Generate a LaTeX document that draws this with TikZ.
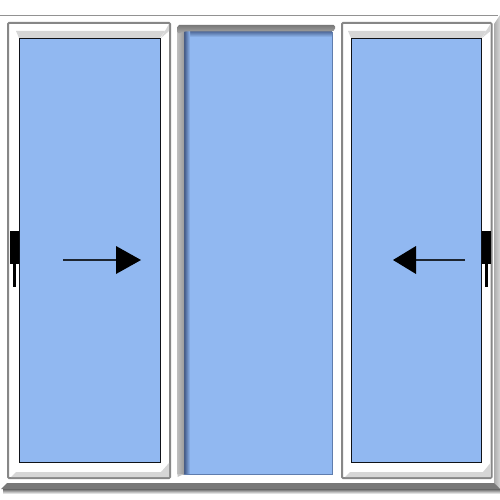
\documentclass[tikz,border=0pt]{standalone}
\definecolor{glass}{RGB}{145,184,241}
\definecolor{glassedge}{RGB}{62,85,130}
\definecolor{framegray}{RGB}{135,135,135}
\definecolor{bandgray}{RGB}{214,214,214}
\definecolor{midgray}{RGB}{172,172,172}
\definecolor{darkband}{RGB}{120,120,120}
\tikzset{
  x=1pt,y=-1pt,
  framebox/.style={draw=framegray,line width=2pt,fill=white,rounded corners=1pt},
  glasspane/.style={draw=black!90!glass,line width=0.8pt,fill=glass},
  bandfill/.style={fill=bandgray,draw=none},
  moving/.style={draw=black!80!glass,line width=1.8pt},
  headtip/.style={fill=black,draw=none},
  handleblock/.style={fill=black,draw=none}
}
\begin{document}
\begin{tikzpicture}
\useasboundingbox (0,0) rectangle (500,500);
\fill[white] (0,0) rectangle (500,500);
% outer frame top line and right jamb
\draw[midgray!85!black,line width=1.2pt] (0,15.5) -- (498,15.5);
\shade[left color=midgray,right color=bandgray] (500,15) -- (500,490) -- (494,483) -- (494,24) -- cycle;
% bottom sill
\fill[darkband] (1,489) -- (7,483) -- (494,483) -- (500,489) -- cycle;
\shade[top color=darkband!85!black,bottom color=white] (3,489) rectangle (500,494);
% left sash
\draw[framebox] (8,23) rectangle (170,478);
\fill[bandfill] (16,31) -- (165,31) -- (160,38) -- (19,38) -- cycle;
\fill[bandfill] (11,477) -- (169,477) -- (169,463) -- (161,472) -- (16,472) -- cycle;
\fill[bandgray] (165,31) -- (169,24) -- (169,31) -- (161,38) -- cycle;
\draw[glasspane] (19,38.5) rectangle (160,462.5);
% middle fixed panel
\fill[glass] (184,30) rectangle (332,474);
\shade[top color=glassedge,bottom color=glass] (184,30) rectangle (332,37);
\shade[left color=glassedge,right color=glass] (184,30) rectangle (190,474);
\draw[glassedge!60!glass,line width=0.8pt] (184,474) -- (332,474) -- (332,32);
\shade[left color=midgray!80,right color=midgray!90!black] (177.5,30) rectangle (184,474);
\fill[midgray!70] (177.5,474) -- (184,474) -- (177.5,477) -- cycle;
\shade[top color=darkband,bottom color=midgray,rounded corners=1.5pt] (177.5,25) -- (335,25) -- (335,30) -- (332,31.5) -- (184,31.5) -- (177.5,34) -- cycle;
% right sash
\draw[framebox] (342,23) rectangle (491.5,478);
\fill[bandfill] (348,31) -- (486,31) -- (481.5,38) -- (351,38) -- cycle;
\fill[bandgray] (486,31) -- (490.5,24) -- (490.5,31) -- (482,38) -- cycle;
\fill[bandfill] (345,477) -- (490.5,477) -- (490.5,463) -- (483,472) -- (350,472) -- cycle;
\draw[glasspane] (351,38.5) rectangle (481.5,462.5);
% handles
\fill[handleblock] (10,231) rectangle (19,264);
\fill[handleblock] (13,264) rectangle (16,287);
\fill[handleblock] (481.5,231) rectangle (491,264);
\fill[handleblock] (485,264) rectangle (488,287);
% arrows
\coordinate (la) at (63,260);
\coordinate (lb) at (117,260);
\coordinate (ra) at (465,260);
\coordinate (rb) at (416,260);
\draw[moving] (la) -- (lb);
\fill[headtip] (116,246) -- (141,260) -- (116,274) -- cycle;
\draw[moving] (ra) -- (rb);
\fill[headtip] (416,246) -- (393,260) -- (416,274) -- cycle;
\end{tikzpicture}
\end{document}
